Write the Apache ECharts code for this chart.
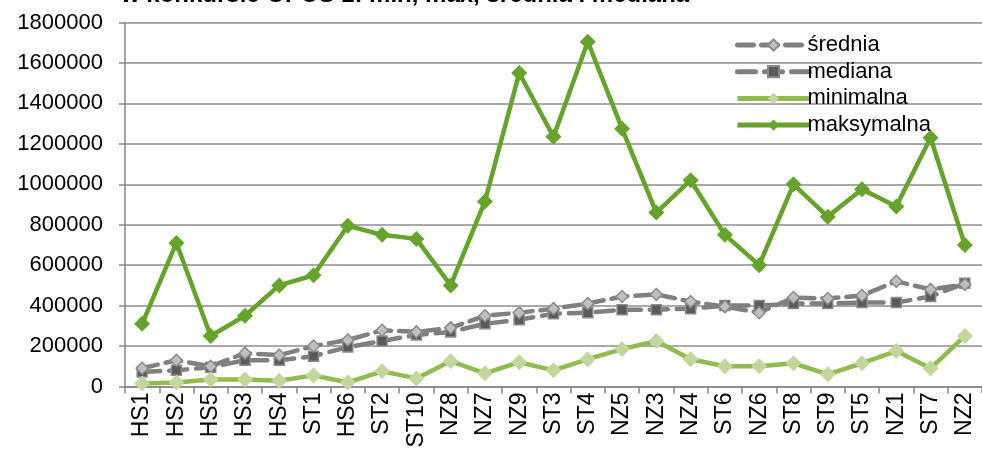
<!DOCTYPE html>
<html><head><meta charset="utf-8">
<script src="https://cdn.jsdelivr.net/npm/echarts@6/dist/echarts.min.js"></script>
<style>html,body{margin:0;padding:0;background:#fff}#c{width:982px;height:452px}</style>
</head><body><div id="c"></div>
<script>
var categories = ['HS1','HS2','HS5','HS3','HS4','ST1','HS6','ST2','ST10','NZ8','NZ7','NZ9','ST3','ST4','NZ5','NZ3','NZ4','ST6','NZ6','ST8','ST9','ST5','NZ1','ST7','NZ2'];
var srednia = [90000,130000,100000,165000,155000,200000,230000,278000,270000,290000,350000,365000,385000,410000,445000,455000,420000,395000,365000,440000,435000,450000,520000,480000,505000];
var mediana = [72000,80000,95000,130000,130000,150000,195000,225000,255000,270000,310000,330000,360000,365000,380000,380000,385000,400000,400000,410000,410000,415000,415000,445000,510000];
var minimalna = [15000,20000,35000,35000,28000,55000,20000,75000,40000,125000,65000,120000,80000,135000,185000,225000,135000,100000,100000,115000,60000,115000,175000,90000,250000];
var maksymalna = [310000,710000,250000,350000,500000,550000,795000,750000,730000,500000,915000,1550000,1235000,1705000,1275000,860000,1020000,750000,600000,1000000,840000,975000,890000,1230000,700000];
var yTicks = {min:0, max:1800000, interval:200000};
var titleText = 'w konkursie OPUS 1: min, max, średnia i mediana';

var chart = echarts.init(document.getElementById('c'), null, {renderer:'canvas'});
var font = 'Liberation Sans, Arial, sans-serif';
chart.setOption({
  animation:false,
  backgroundColor:'#fff',
  title:{text:titleText, left:116, top:-22, textStyle:{fontFamily:font, fontSize:24, fontWeight:'bold', color:'#000'}},
  grid:{left:125, right:-5, top:22.5, bottom:65.5, containLabel:false},
  legend:{
    orient:'vertical', left:730, top:29, itemWidth:72, itemHeight:14, itemGap:4.7,
    lineStyle:{width:5},
    textStyle:{fontFamily:font, fontSize:22, lineHeight:22, color:'#000', padding:[0,0,0,-7]},
    data:['średnia','mediana','minimalna','maksymalna']
  },
  xAxis:{
    type:'category', data:categories, boundaryGap:true,
    axisLine:{lineStyle:{color:'#868686', width:1.5}},
    axisTick:{show:true, length:7, alignWithLabel:false, lineStyle:{color:'#868686', width:1.5}},
    axisLabel:{rotate:90, interval:0, fontFamily:font, fontSize:23, color:'#000', margin:6}
  },
  yAxis:{
    type:'value', min:yTicks.min, max:yTicks.max, interval:yTicks.interval,
    axisLine:{show:true, lineStyle:{color:'#868686', width:1.5}},
    axisTick:{show:true, length:6, lineStyle:{color:'#868686', width:1.5}},
    splitLine:{lineStyle:{color:'#8c8c8c', width:1.5}},
    axisLabel:{fontFamily:font, fontSize:22, color:'#000', margin:22, formatter:function(v){return String(v);}}
  },
  series:[
    {name:'średnia', type:'line', data:srednia, symbol:'diamond', symbolSize:12,
     lineStyle:{color:'#808080', width:4.5, type:[16,8], cap:'round'},
     itemStyle:{color:'#bfbfbf', borderColor:'#8a8a8a', borderWidth:1.5}, z:3},
    {name:'mediana', type:'line', data:mediana, symbol:'rect', symbolSize:10,
     lineStyle:{color:'#7f7f7f', width:4.5, type:[18,9], cap:'round'},
     itemStyle:{color:'#5a5a5a', borderColor:'#8a8a8a', borderWidth:1.5}, z:2},
    {name:'minimalna', type:'line', data:minimalna, symbol:'diamond', symbolSize:16,
     lineStyle:{color:'#92bb4e', width:4.5},
     itemStyle:{color:'#c3d69b', borderWidth:0}, z:4},
    {name:'maksymalna', type:'line', data:maksymalna, symbol:'diamond', symbolSize:16,
     lineStyle:{color:'#65a32b', width:4.5},
     itemStyle:{color:'#65a32b', borderWidth:0}, z:5}
  ]
});
</script></body></html>
